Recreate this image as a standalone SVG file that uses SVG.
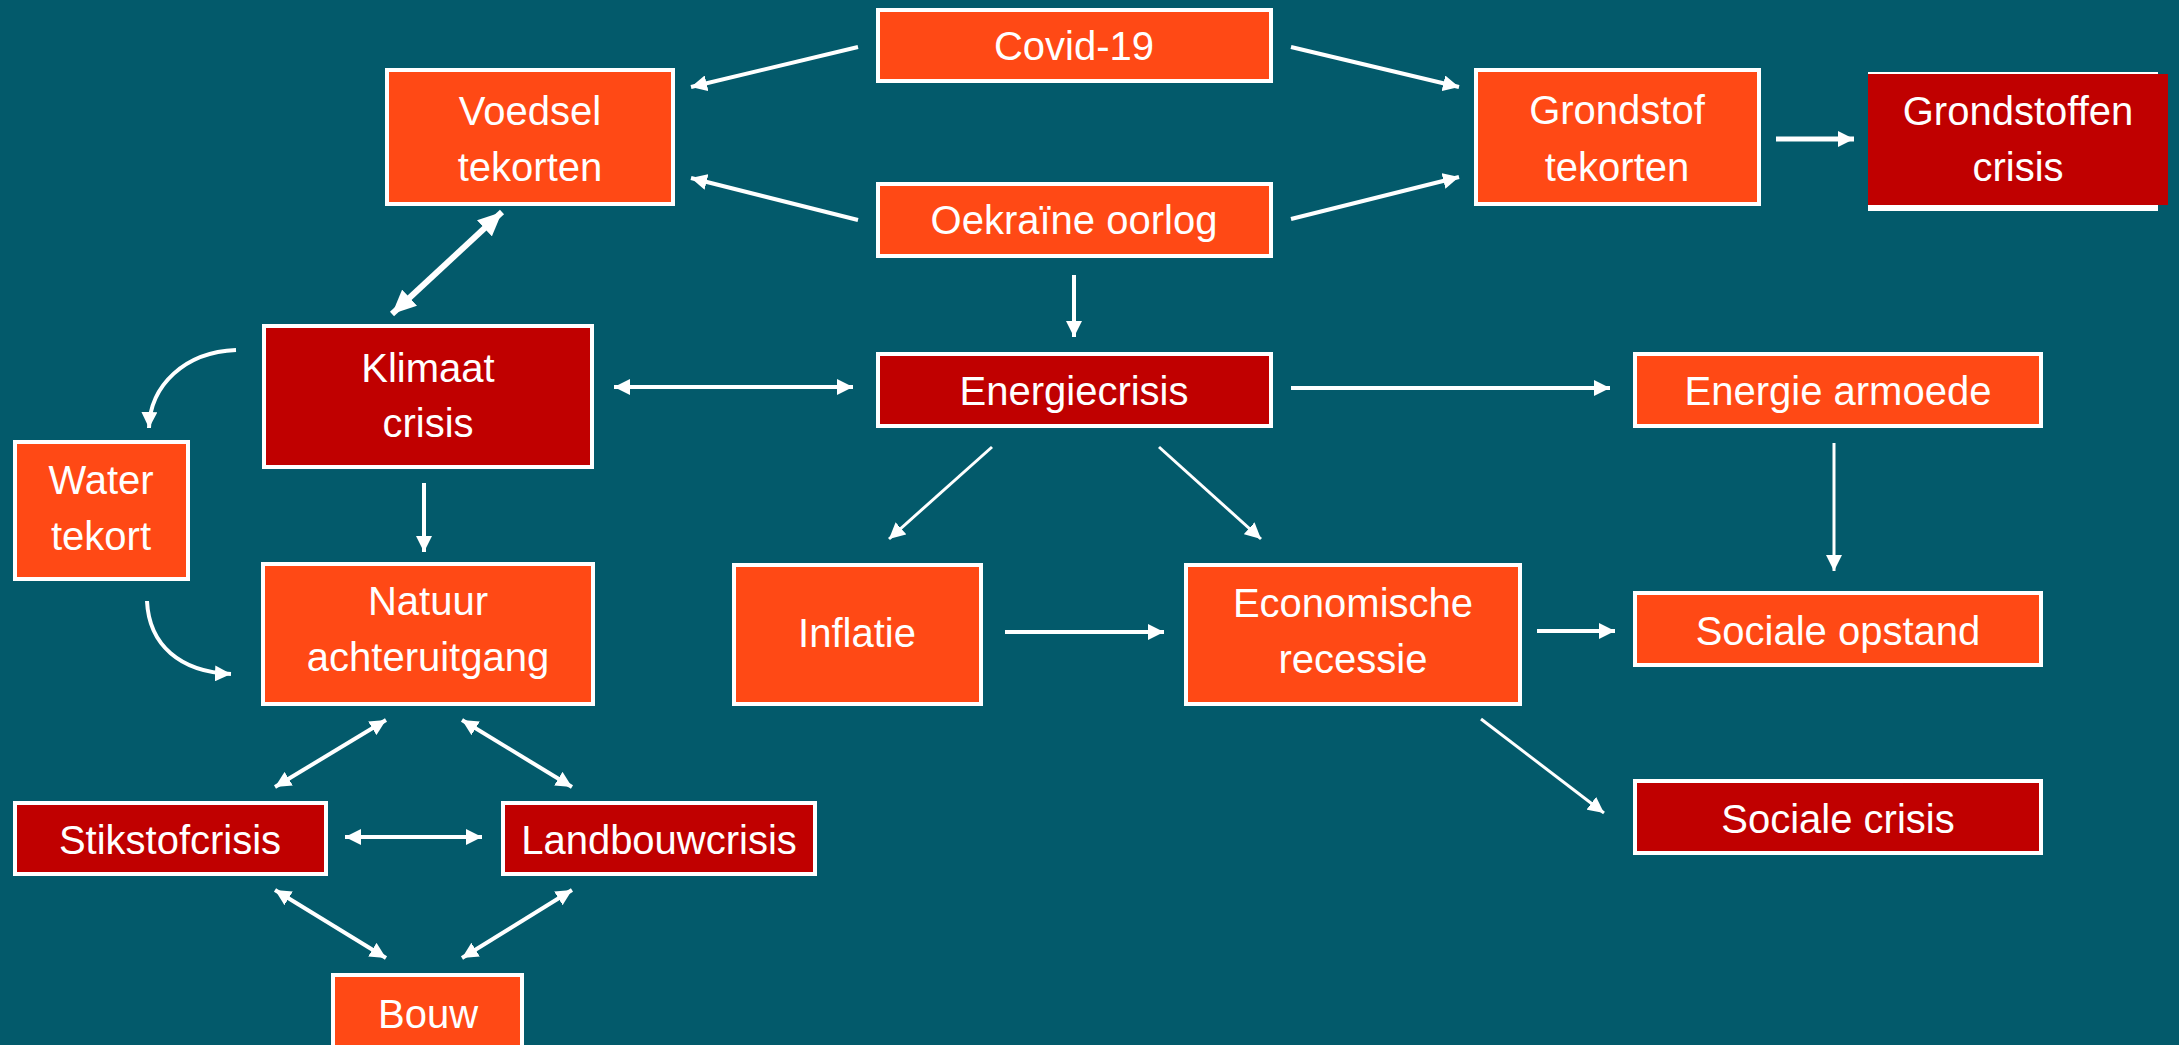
<svg xmlns="http://www.w3.org/2000/svg" width="2179" height="1045" viewBox="0 0 2179 1045">
<style>
.bg{fill:#035A6B}
.o{fill:#FF4915;stroke:#FFFFFF;stroke-width:4}
.r{fill:#C00000;stroke:#FFFFFF;stroke-width:4}
.t{font-family:"Liberation Sans",Arial,sans-serif;font-size:40px;fill:#FFFFFF;text-anchor:middle}
.c{fill:none;stroke:#FFFFFF;stroke-width:4}
.c3{fill:none;stroke:#FFFFFF;stroke-width:3}
.a{marker-end:url(#ah)}
.d{marker-start:url(#ah);marker-end:url(#ah)}
</style>
<defs>
<marker id="ah" markerUnits="userSpaceOnUse" markerWidth="16" markerHeight="16" refX="16" refY="8" orient="auto-start-reverse">
<path d="M0,0 L16,8 L0,16 z" fill="#FFFFFF"/>
</marker>
<marker id="ahb" markerUnits="userSpaceOnUse" markerWidth="24" markerHeight="22" refX="24" refY="11" orient="auto-start-reverse">
<path d="M0,0 L24,11 L0,22 z" fill="#FFFFFF"/>
</marker>
</defs>
<rect class="bg" x="0" y="0" width="2179" height="1045"/>

<g id="connectors">
<path class="c a" d="M858,47 L691,87"/>
<path class="c a" d="M858,220 L691,178"/>
<path class="c a" d="M1291,47 L1459,87"/>
<path class="c a" d="M1291,219 L1459,177"/>
<path class="c a" style="stroke-width:5" d="M1776,139 L1854,139"/>
<path class="c" style="stroke-width:6;marker-start:url(#ahb);marker-end:url(#ahb)" d="M502,212 L392,314"/>
<path class="c a" d="M1074,275 L1074,337"/>
<path class="c d" d="M614,387 L853,387"/>
<path class="c a" d="M1291,388 L1610,388"/>
<path class="c a" d="M236,350 C185,352 150,385 149,428"/>
<path class="c a" d="M424,483 L424,552"/>
<path class="c a" d="M147,601 C149,645 180,672 231,674"/>
<path class="c3 a" d="M992,447 L889,539"/>
<path class="c3 a" d="M1159,447 L1261,539"/>
<path class="c3 a" d="M1834,443 L1834,571"/>
<path class="c a" d="M1005,632 L1164,632"/>
<path class="c a" d="M1537,631 L1615,631"/>
<path class="c3 a" d="M1481,719 L1604,813"/>
<path class="c d" d="M386,720 L275,787"/>
<path class="c d" d="M462,720 L572,787"/>
<path class="c d" d="M345,837 L482,837"/>
<path class="c d" d="M275,890 L386,958"/>
<path class="c d" d="M572,890 L462,958"/>
</g>

<g id="covid"><rect class="o" x="878" y="10" width="393" height="71"/><text class="t" x="1074" y="60">Covid-19</text></g>
<g id="voedsel"><rect class="o" x="387" y="70" width="286" height="134"/><text class="t" x="530" y="125">Voedsel</text><text class="t" x="530" y="181">tekorten</text></g>
<g id="oekraine"><rect class="o" x="878" y="184" width="393" height="72"/><text class="t" x="1074" y="234">Oekraïne oorlog</text></g>
<g id="grondstof"><rect class="o" x="1476" y="70" width="283" height="134"/><text class="t" x="1617" y="124">Grondstof</text><text class="t" x="1617" y="181">tekorten</text></g>
<g id="grondstoffencrisis"><rect x="1868" y="72" width="290" height="139" fill="#FFFFFF"/><rect x="1868" y="74" width="300" height="131" fill="#C00000"/><text class="t" x="2018" y="125">Grondstoffen</text><text class="t" x="2018" y="181">crisis</text></g>
<g id="klimaat"><rect class="r" x="264" y="326" width="328" height="141"/><text class="t" x="428" y="382">Klimaat</text><text class="t" x="428" y="437">crisis</text></g>
<g id="energiecrisis"><rect class="r" x="878" y="354" width="393" height="72"/><text class="t" x="1074" y="405">Energiecrisis</text></g>
<g id="energiearmoede"><rect class="o" x="1635" y="354" width="406" height="72"/><text class="t" x="1838" y="405">Energie armoede</text></g>
<g id="water"><rect class="o" x="15" y="442" width="173" height="137"/><text class="t" x="101" y="494">Water</text><text class="t" x="101" y="550">tekort</text></g>
<g id="natuur"><rect class="o" x="263" y="564" width="330" height="140"/><text class="t" x="428" y="615">Natuur</text><text class="t" x="428" y="671">achteruitgang</text></g>
<g id="inflatie"><rect class="o" x="734" y="565" width="247" height="139"/><text class="t" x="857" y="647">Inflatie</text></g>
<g id="economische"><rect class="o" x="1186" y="565" width="334" height="139"/><text class="t" x="1353" y="617">Economische</text><text class="t" x="1353" y="673">recessie</text></g>
<g id="socialeopstand"><rect class="o" x="1635" y="593" width="406" height="72"/><text class="t" x="1838" y="645">Sociale opstand</text></g>
<g id="socialecrisis"><rect class="r" x="1635" y="781" width="406" height="72"/><text class="t" x="1838" y="833">Sociale crisis</text></g>
<g id="stikstof"><rect class="r" x="15" y="803" width="311" height="71"/><text class="t" x="170" y="854">Stikstofcrisis</text></g>
<g id="landbouw"><rect class="r" x="503" y="803" width="312" height="71"/><text class="t" x="659" y="854">Landbouwcrisis</text></g>
<g id="bouw"><rect class="o" x="333" y="975" width="189" height="90"/><text class="t" x="428" y="1028">Bouw</text></g>
</svg>
